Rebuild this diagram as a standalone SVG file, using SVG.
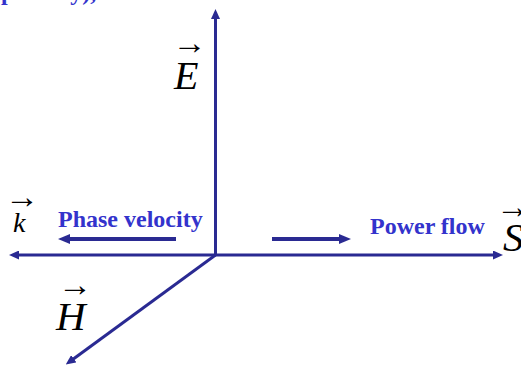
<svg xmlns="http://www.w3.org/2000/svg" width="521" height="366" viewBox="0 0 521 366">
<style>
.ax{stroke:#2a2a92;stroke-width:3;fill:none}
.fl{stroke:#2a2a92;stroke-width:4;fill:none}
.lbl{font-family:"Liberation Serif","Times New Roman",serif;font-weight:bold;font-size:24px;fill:#3333cc}
.var{font-family:"Liberation Serif","Times New Roman",serif;font-style:italic;fill:#000}
.vec{font-family:"Liberation Serif","Times New Roman",serif;font-size:34px;fill:#000;text-anchor:middle}
</style>
<defs>
<marker id="ah" markerUnits="userSpaceOnUse" markerWidth="10" markerHeight="9" refX="1" refY="4.5" orient="auto" viewBox="0 0 10 9">
<path d="M0,0 L10,4.5 L0,9 z" fill="#2a2a92"/>
</marker>
<marker id="ahb" markerUnits="userSpaceOnUse" markerWidth="12" markerHeight="10" refX="1" refY="5" orient="auto" viewBox="0 0 12 10">
<path d="M0,0 L12,5 L0,10 z" fill="#2a2a92"/>
</marker>
</defs>
<text class="lbl" x="1" y="0">polarity),</text>
<g id="connectors">
<line class="ax" x1="215.5" y1="256" x2="215.5" y2="18" marker-end="url(#ah)"/>
<line class="ax" x1="216" y1="255" x2="18" y2="255" marker-end="url(#ah)"/>
<line class="ax" x1="214" y1="255" x2="494" y2="255" marker-end="url(#ah)"/>
<line class="ax" x1="215.5" y1="255" x2="73" y2="359.3" marker-end="url(#ah)"/>
<line class="fl" x1="176" y1="239" x2="69" y2="239" marker-end="url(#ahb)"/>
<line class="fl" x1="272" y1="239" x2="340" y2="239" marker-end="url(#ahb)"/>
</g>
<g id="E">
<text class="vec" x="189.5" y="54">→</text>
<text class="var" x="174" y="89" font-size="40">E</text>
</g>
<g id="H">
<text class="vec" x="75" y="296">→</text>
<text class="var" x="56" y="330" font-size="41">H</text>
</g>
<g id="k">
<text class="vec" x="22" y="208">→</text>
<text class="var" x="13" y="232" font-size="28">k</text>
</g>
<g id="S">
<text class="vec" x="513" y="218">→</text>
<text class="var" x="503" y="251" font-size="41">S</text>
</g>
<g id="phase">
<text class="lbl" x="58" y="227">Phase velocity</text>
</g>
<g id="power">
<text class="lbl" x="370" y="234">Power flow</text>
</g>
</svg>
